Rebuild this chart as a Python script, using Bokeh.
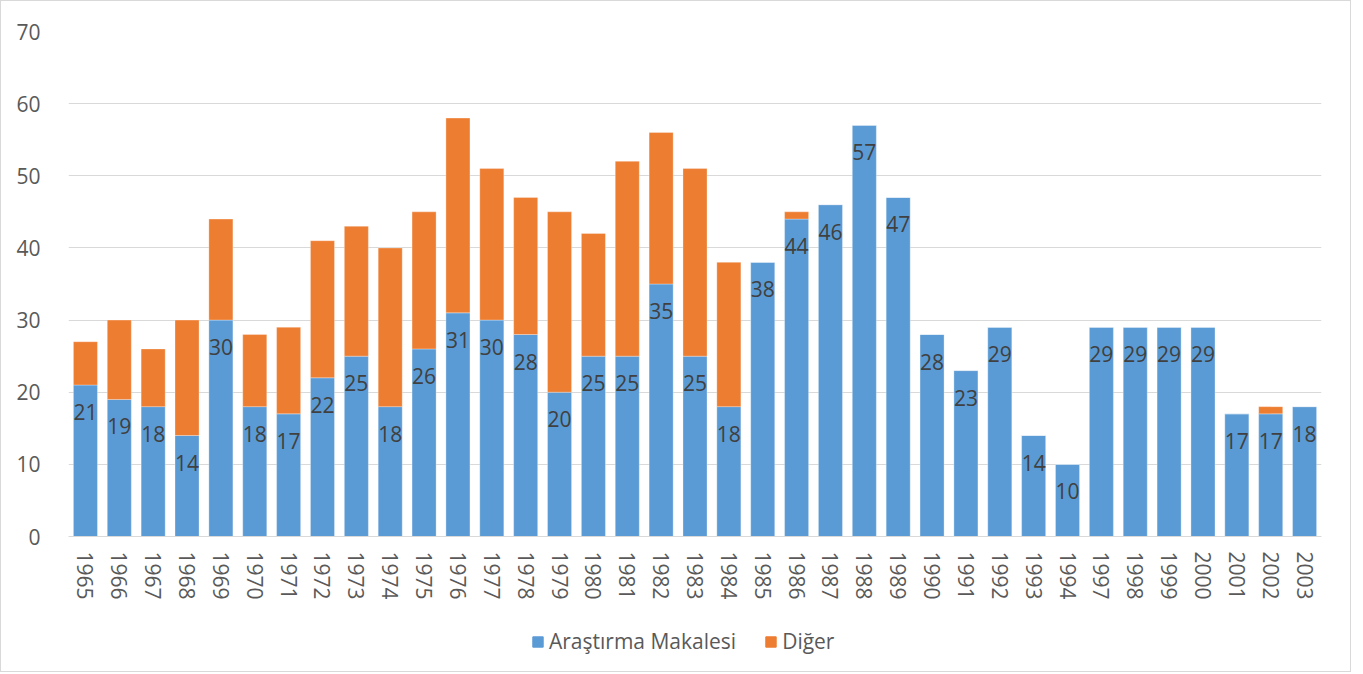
from bokeh.plotting import figure
from bokeh.models import ColumnDataSource, LabelSet, Legend, LegendItem, FactorRange, SingleIntervalTicker
from bokeh.layouts import column
from bokeh.core.properties import value
from bokeh.embed import file_html
from bokeh.resources import INLINE

years = ["1965", "1966", "1967", "1968", "1969", "1970", "1971", "1972", "1973", "1974",
         "1975", "1976", "1977", "1978", "1979", "1980", "1981", "1982", "1983", "1984",
         "1985", "1986", "1987", "1988", "1989", "1990", "1991", "1992", "1993", "1994",
         "1997", "1998", "1999", "2000", "2001", "2002", "2003"]
arastirma = [21, 19, 18, 14, 30, 18, 17, 22, 25, 18,
             26, 31, 30, 28, 20, 25, 25, 35, 25, 18,
             38, 44, 46, 57, 47, 28, 23, 29, 14, 10,
             29, 29, 29, 29, 17, 17, 18]
diger = [6, 11, 8, 16, 14, 10, 12, 19, 18, 22,
         19, 27, 21, 19, 25, 17, 27, 21, 26, 20,
         0, 1, 0, 0, 0, 0, 0, 0, 0, 0,
         0, 0, 0, 0, 0, 1, 0]
series_names = ["Araştırma Makalesi", "Diğer"]
colors = ["#5B9BD5", "#ED7D31"]

FONT = "Open Sans"
TXT = "#595959"
FS = "21px"

src = ColumnDataSource(dict(year=years, a=arastirma, d=diger,
                            lab=[str(v) for v in arastirma]))

p = figure(x_range=FactorRange(*years, range_padding=0), y_range=(0, 70),
           width=1349, height=615, output_backend="svg", toolbar_location=None,
           min_border_left=67, min_border_right=29, min_border_top=30, min_border_bottom=80)
p.outline_line_color = None

r = p.vbar_stack(["a", "d"], x="year", width=0.71, color=colors, source=src,
                 line_color="#ffffff", line_width=0.5, line_alpha=0.6)

labels = LabelSet(x="year", y="a", text="lab", source=src, y_offset=-27,
                  text_align="center", text_baseline="middle",
                  text_font=value(FONT), text_font_size=FS, text_color="#404040")
p.add_layout(labels)

p.yaxis.ticker = SingleIntervalTicker(interval=10)
p.yaxis.axis_line_color = None
p.yaxis.major_tick_line_color = None
p.yaxis.minor_tick_line_color = None
p.yaxis.major_label_standoff = 22
p.yaxis.major_label_text_font = FONT
p.yaxis.major_label_text_font_size = FS
p.yaxis.major_label_text_color = TXT

p.xaxis.axis_line_color = "#d9d9d9"
p.xaxis.axis_line_width = 1
p.xaxis.major_tick_line_color = None
p.xaxis.minor_tick_line_color = None
p.xaxis.major_label_orientation = "vertical"
p.xaxis.major_label_standoff = 9
p.xaxis.major_label_text_font = FONT
p.xaxis.major_label_text_font_size = FS
p.xaxis.major_label_text_color = TXT

p.xgrid.grid_line_color = None
p.ygrid.grid_line_color = "#d9d9d9"
p.ygrid.grid_line_width = 1

# legend strip below the chart
lf = figure(width=1349, height=55, output_backend="svg", toolbar_location=None,
            x_axis_type=None, y_axis_type=None, min_border=0,
            x_range=(0, 1), y_range=(0, 1))
lf.outline_line_color = None
lf.xgrid.grid_line_color = None
lf.ygrid.grid_line_color = None
d0 = lf.rect(x=[-10], y=[-10], width=1, height=1, color=colors[0])
d1 = lf.rect(x=[-10], y=[-10], width=1, height=1, color=colors[1])
legend = Legend(items=[LegendItem(label=series_names[0], renderers=[d0]),
                       LegendItem(label=series_names[1], renderers=[d1])],
                orientation="horizontal", location=(463, 16),
                padding=0, margin=0, spacing=28,
                glyph_width=13, glyph_height=13, label_standoff=5, label_height=22,
                label_text_font=FONT, label_text_font_size=FS, label_text_color=TXT,
                background_fill_alpha=0, border_line_color=None)
lf.add_layout(legend)

layout = column(p, lf, spacing=0)
layout.styles = {"border": "1px solid #d9d9d9"}

open("out.html", "w").write(file_html(layout, INLINE))
